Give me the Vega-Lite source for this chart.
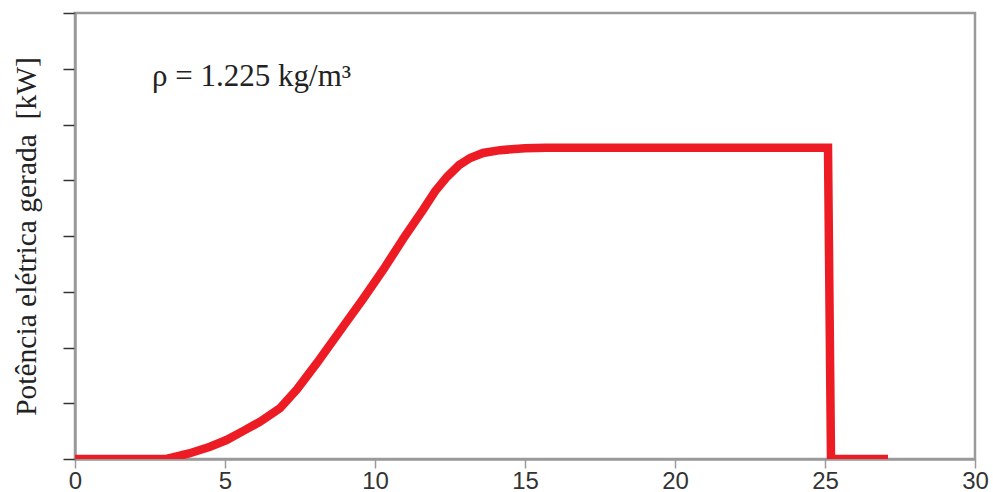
{
  "$schema": "https://vega.github.io/schema/vega-lite/v6.json",
  "width": 900,
  "height": 446,
  "autosize": {"type": "none"},
  "padding": {"left": 75, "top": 13, "right": 18, "bottom": 33},
  "background": "white",
  "config": {
    "view": {"stroke": "#9a9a9a", "strokeWidth": 2.5},
    "axis": {"grid": false}
  },
  "datasets": {
    "curve": [
      {"v": 0, "p": 0},
      {"v": 3.05, "p": 0},
      {"v": 3.8, "p": 0.1},
      {"v": 4.5, "p": 0.22},
      {"v": 5.05, "p": 0.34},
      {"v": 5.6, "p": 0.5},
      {"v": 6.17, "p": 0.67},
      {"v": 6.83, "p": 0.91},
      {"v": 7.4, "p": 1.25},
      {"v": 8.06, "p": 1.72},
      {"v": 8.93, "p": 2.37},
      {"v": 9.6, "p": 2.87},
      {"v": 10.27, "p": 3.39},
      {"v": 11.0, "p": 4.0},
      {"v": 11.6, "p": 4.47},
      {"v": 12.0, "p": 4.8},
      {"v": 12.4, "p": 5.06},
      {"v": 12.8, "p": 5.27},
      {"v": 13.17, "p": 5.4},
      {"v": 13.6, "p": 5.49},
      {"v": 14.17, "p": 5.54},
      {"v": 15.0, "p": 5.575},
      {"v": 15.7, "p": 5.585},
      {"v": 25.1, "p": 5.585},
      {"v": 25.2, "p": 0},
      {"v": 27.1, "p": 0}
    ],
    "note": [
      {"v": 2.57, "p": 6.85, "label": "ρ = 1.225 kg/m³"}
    ]
  },
  "layer": [
    {
      "data": {"name": "curve"},
      "mark": {"type": "line", "color": "#ED1C24", "strokeWidth": 8.5, "strokeCap": "butt", "strokeJoin": "miter", "clip": true},
      "encoding": {
        "x": {
          "field": "v", "type": "quantitative",
          "scale": {"domain": [0, 30], "nice": false, "zero": false},
          "axis": {
            "values": [0, 5, 10, 15, 20, 25, 30],
            "title": null,
            "domainColor": "#9a9a9a", "domainWidth": 2.5,
            "tickColor": "#9a9a9a", "tickWidth": 1.5, "tickSize": 9,
            "labelFont": "Liberation Sans", "labelFontSize": 24, "labelColor": "#333333",
            "labelPadding": 1, "labelFlush": false
          }
        },
        "y": {
          "field": "p", "type": "quantitative",
          "scale": {"domain": [0, 8], "nice": false, "zero": true},
          "axis": {
            "values": [0, 1, 2, 3, 4, 5, 6, 7, 8],
            "labels": false,
            "title": "Potência elétrica gerada\u00a0 [kW]",
            "titleFont": "Liberation Serif", "titleFontSize": 29.5, "titleFontWeight": "normal",
            "titleColor": "#222222", "titlePadding": 21,
            "domainColor": "#9a9a9a", "domainWidth": 2.5,
            "tickColor": "#333333", "tickWidth": 1.5, "tickSize": 12
          }
        }
      }
    },
    {
      "data": {"name": "note"},
      "mark": {"type": "text", "font": "Liberation Serif", "fontSize": 31, "align": "left", "baseline": "middle", "color": "#222222"},
      "encoding": {
        "x": {"field": "v", "type": "quantitative"},
        "y": {"field": "p", "type": "quantitative"},
        "text": {"field": "label"}
      }
    }
  ]
}
